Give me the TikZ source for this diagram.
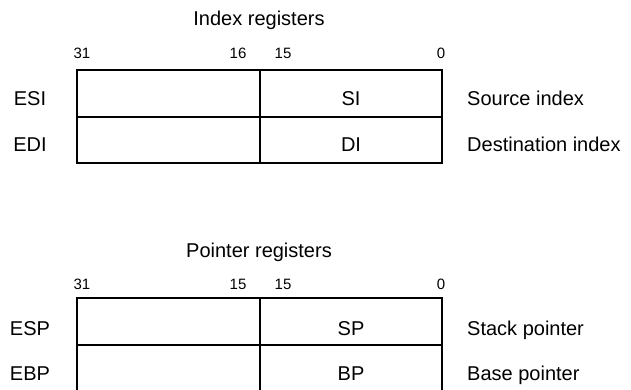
\documentclass[tikz,border=0pt]{standalone}
\usepackage{fontspec}
\setmainfont{Liberation Sans}

\begin{document}
\begin{tikzpicture}[x=1pt, y=-1pt,
    regtext/.style={font=\fontsize{20}{24}\selectfont, inner sep=0pt, anchor=base},
    bittext/.style={font=\fontsize{15}{18}\selectfont, inner sep=0pt, anchor=base},
    regline/.style={line width=1.2pt, black}]
                \useasboundingbox (0,0) rectangle (631,389);

                % Bloque 1: Index registers
                \node[regtext] (idxtitle) at (259,25) {Index registers};
                \node[bittext] (idxb31) at (82,58) {31};
                \node[bittext] (idxb16) at (238,58) {16};
                \node[bittext] (idxb15) at (283,58) {15};
                \node[bittext] (idxb0) at (441,58) {0};
                \draw[regline] (77,70) rectangle (442,163);
                \draw[regline] (77,117) -- (442,117);
                \draw[regline] (260,70) -- (260,163);
                \node[regtext] (esi) at (30,105) {ESI};
                \node[regtext] (si) at (351,105) {SI};
                \node[regtext, anchor=base west] (esidesc) at (467,105) {Source index};
                \node[regtext] (edi) at (30,151) {EDI};
                \node[regtext] (di) at (351,151) {DI};
                \node[regtext, anchor=base west] (edidesc) at (467,151) {Destination index};

                % Bloque 2: Pointer registers
                \node[regtext] (ptrtitle) at (259,257) {Pointer registers};
                \node[bittext] (ptrb31) at (82,289) {31};
                \node[bittext] (ptrb16) at (238,289) {15};
                \node[bittext] (ptrb15) at (283,289) {15};
                \node[bittext] (ptrb0) at (441,289) {0};
                \draw[regline] (77,298) rectangle (442,392);
                \draw[regline] (77,345) -- (442,345);
                \draw[regline] (260,298) -- (260,392);
                \node[regtext] (esp) at (30,335) {ESP};
                \node[regtext] (sp) at (351,335) {SP};
                \node[regtext, anchor=base west] (espdesc) at (467,335) {Stack pointer};
                \node[regtext] (ebp) at (30,380) {EBP};
                \node[regtext] (bp) at (351,380) {BP};
                \node[regtext, anchor=base west] (ebpdesc) at (467,380) {Base pointer};
            \end{tikzpicture}
\end{document}
